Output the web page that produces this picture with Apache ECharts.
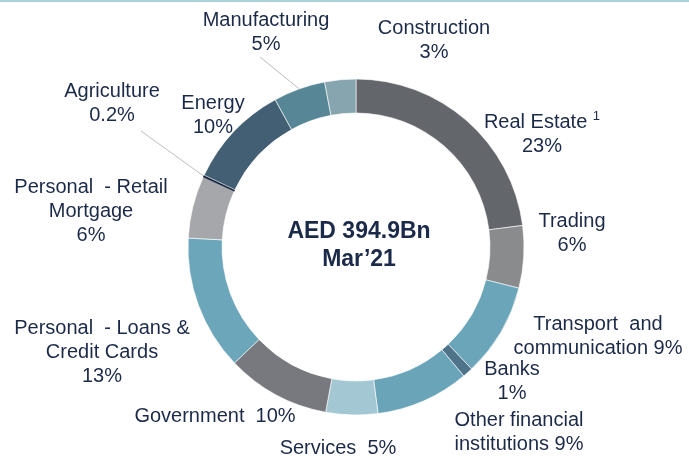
<!DOCTYPE html>
<html>
<head>
<meta charset="utf-8">
<script src="https://cdn.jsdelivr.net/npm/echarts@6/dist/echarts.min.js"></script>
<style>
html, body { margin: 0; padding: 0; background: #fff; }
#loanMix { width: 689px; height: 460px; }
</style>
</head>
<body>
<div id="loanMix"></div>
<script>
// 贷款结构 (clockwise from 12 o'clock)
var categories = ['Real Estate', 'Trading', 'Transport and communication', 'Banks',
    'Other financial institutions', 'Services', 'Government', 'Personal - Loans & Credit Cards',
    'Personal - Retail Mortgage', 'Agriculture', 'Energy', 'Manufacturing', 'Construction'];
var shares = [23, 6, 9, 1, 9, 5, 10, 13, 6, 0.2, 10, 5, 3];
// label wording, {v} is replaced by the share
var labelFmt = ['Real Estate {sup|1}\n{v}', 'Trading\n{v}', 'Transport  and\ncommunication {v}', 'Banks\n{v}',
    'Other financial\ninstitutions {v}', 'Services  {v}', 'Government  {v}', 'Personal  - Loans &\nCredit Cards\n{v}',
    'Personal  - Retail\nMortgage\n{v}', 'Agriculture\n{v}', 'Energy\n{v}', 'Manufacturing\n{v}', 'Construction\n{v}'];
var sliceColors = ['#63666b', '#8a8b8d', '#6ba5b9', '#4f7389', '#6aa4b9', '#a4c8d3', '#77797e',
    '#6ca6ba', '#a6a7aa', '#14233d', '#435f73', '#578696', '#86a5af'];
var totalText = 'AED 394.9Bn\nMar\u201921';

// label block centres (layout only)
var labelPos = [[542, 134], [572, 233], [598, 336], [512, 381], [519, 432], [338, 448], [215, 416],
    [102, 352], [91, 211], [112, 103], [213, 115], [266, 32], [434, 40]];
var leaderEnd = { 'Manufacturing': [260, 57], 'Agriculture': [141, 131] };

var myChart = echarts.init(document.getElementById('loanMix'));

var pieData = [];
for (var i = 0; i < categories.length; i++) {
    var item = {
        name: categories[i],
        value: shares[i],
        itemStyle: { color: sliceColors[i] }
    };
    if (leaderEnd[categories[i]]) {
        item.labelLine = { show: true };
    }
    if (categories[i] === 'Agriculture') {
        item.itemStyle.borderColor = sliceColors[i];
    }
    pieData.push(item);
}

var option = {
    animation: false,
    graphic: [
        {
            type: 'rect',
            shape: { x: 0, y: 0, width: 689, height: 2 },
            style: { fill: '#a9d0db' }
        },
        {
            type: 'text',
            x: 359,
            y: 246,
            style: {
                text: totalText,
                textAlign: 'center',
                textVerticalAlign: 'middle',
                fontFamily: 'Liberation Sans',
                fontWeight: 'bold',
                fontSize: 23,
                lineHeight: 28,
                fill: '#1c2a49'
            }
        }
    ],
    series: [
        {
            name: 'Loans',
            type: 'pie',
            center: [356, 247],
            radius: [134, 168],
            startAngle: 90,
            clockwise: true,
            avoidLabelOverlap: false,
            emphasis: { disabled: true },
            itemStyle: {
                borderColor: '#ffffff',
                borderWidth: 0.6
            },
            label: {
                show: true,
                position: 'outside',
                color: '#1c2a49',
                fontFamily: 'Liberation Sans',
                fontSize: 20,
                lineHeight: 24,
                align: 'center',
                formatter: function (p) {
                    return labelFmt[p.dataIndex].replace('{v}', p.value + '%');
                },
                rich: {
                    sup: {
                        fontFamily: 'Liberation Sans',
                        fontSize: 13,
                        color: '#1c2a49',
                        verticalAlign: 'top',
                        lineHeight: 24,
                        padding: [0, 0, 7, 0]
                    }
                }
            },
            labelLine: {
                show: false,
                length: 10,
                length2: 10,
                lineStyle: { color: '#bcbcbc', width: 1 }
            },
            labelLayout: function (params) {
                var pos = labelPos[params.dataIndex];
                var res = {
                    x: pos[0],
                    y: pos[1],
                    align: 'center',
                    verticalAlign: 'middle'
                };
                var end = leaderEnd[categories[params.dataIndex]];
                if (end && params.labelLinePoints) {
                    var p0 = params.labelLinePoints[0];
                    res.labelLinePoints = [p0, end, end];
                }
                return res;
            },
            data: pieData
        }
    ]
};
myChart.setOption(option);
</script>
</body>
</html>
